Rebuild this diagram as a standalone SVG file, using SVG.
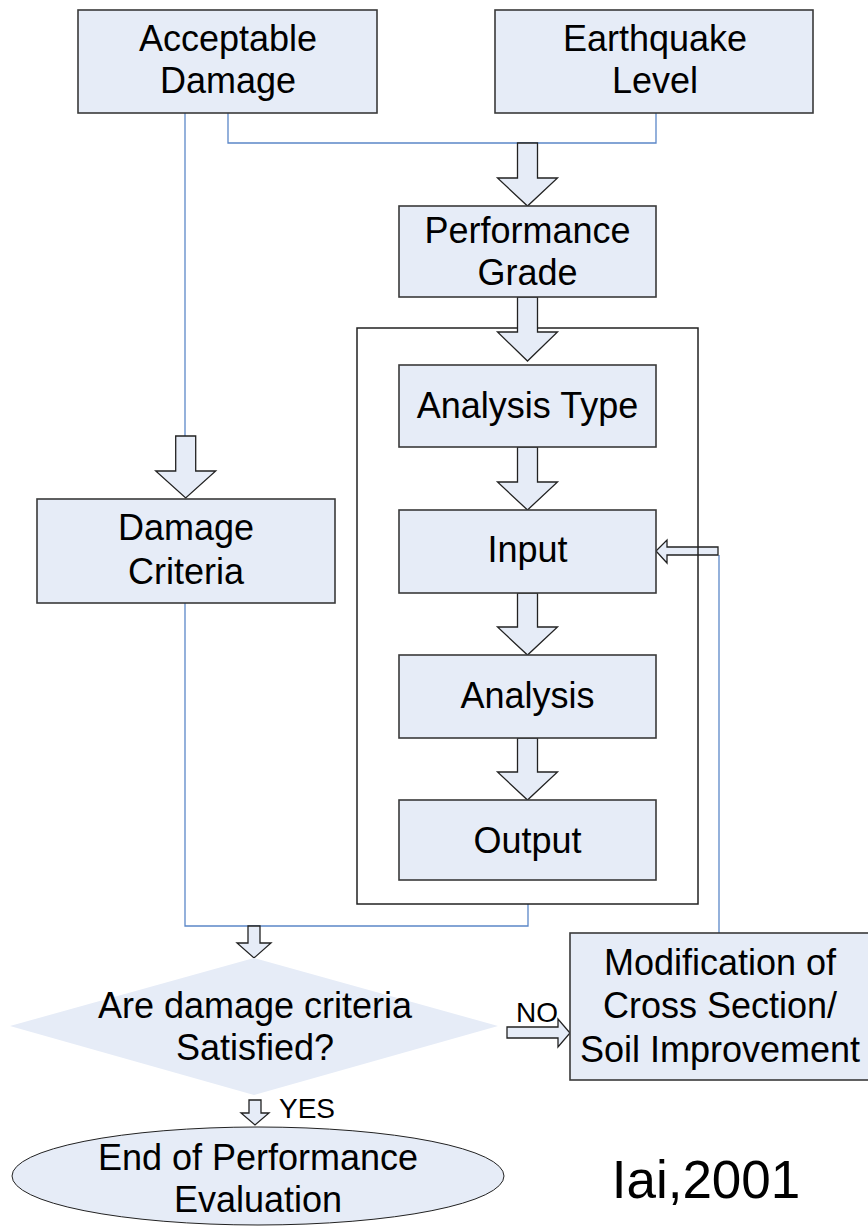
<svg xmlns="http://www.w3.org/2000/svg" width="868" height="1229" viewBox="0 0 868 1229">
<style>
.box{fill:#E6ECF7;stroke:#3a3a3a;stroke-width:1.6}
.arr{fill:#E6ECF7;stroke:#222;stroke-width:1.3;stroke-linejoin:miter}
.con{fill:none;stroke:#5B87C8;stroke-width:1.3}
.t{font-family:"Liberation Sans",Arial,sans-serif;font-size:36px;fill:#000;text-anchor:middle}
.s{font-family:"Liberation Sans",Arial,sans-serif;font-size:28px;fill:#000}
</style>
<rect width="868" height="1229" fill="#fff"/>
<g id="connectors">
<polyline class="con" points="228,113 228,143 656,143 656,113"/>
<line class="con" x1="185" y1="113" x2="185" y2="436"/>
<polyline class="con" points="185,603 185,926 528,926 528,904"/>
<line class="con" x1="719" y1="933" x2="719" y2="555"/>
<polygon class="arr" points="517.5,143 537.5,143 537.5,178 557.5,178 527.5,206 497.5,178 517.5,178"/>
<polygon class="arr" points="517.5,447 537.5,447 537.5,482 557.5,482 527.5,510 497.5,482 517.5,482"/>
<polygon class="arr" points="517.5,593 537.5,593 537.5,627 557.5,627 527.5,655 497.5,627 517.5,627"/>
<polygon class="arr" points="517.5,738 537.5,738 537.5,772 557.5,772 527.5,800 497.5,772 517.5,772"/>
<polygon class="arr" points="175.7,436 195.7,436 195.7,471 215.7,471 185.7,498 155.7,471 175.7,471"/>
<polygon class="arr" points="248,926 260,926 260,943 271,943 254,958 237,943 248,943"/>
<polygon class="arr" points="249,1100 261,1100 261,1113 269,1113 255,1125 241,1113 249,1113"/>
<polygon class="arr" points="507,1027 558,1027 558,1019 570,1033 558,1047 558,1038 507,1038"/>
<polygon class="arr" points="718,547 667,547 667,540 656,551 667,563 667,555 718,555"/>
</g>
<g id="container"><rect x="357" y="328" width="341" height="576" fill="none" stroke="#222" stroke-width="1.5"/></g>
<polygon class="arr" points="517.5,297 537.5,297 537.5,332 557.5,332 527.5,361 497.5,332 517.5,332"/>
<g id="acceptable-damage"><rect class="box" x="78" y="10" width="299" height="103"/>
<text class="t" x="228" y="51">Acceptable</text><text class="t" x="228" y="93">Damage</text></g>
<g id="earthquake-level"><rect class="box" x="495" y="10" width="318" height="103"/>
<text class="t" x="655" y="51">Earthquake</text><text class="t" x="655" y="93">Level</text></g>
<g id="performance-grade"><rect class="box" x="399" y="206" width="257" height="91"/>
<text class="t" x="527.5" y="243">Performance</text><text class="t" x="527.5" y="285">Grade</text></g>
<g id="analysis-type"><rect class="box" x="399" y="365" width="257" height="82"/>
<text class="t" x="527.5" y="418">Analysis Type</text></g>
<g id="input"><rect class="box" x="399" y="510" width="257" height="83"/>
<text class="t" x="527.5" y="562">Input</text></g>
<g id="analysis"><rect class="box" x="399" y="655" width="257" height="83"/>
<text class="t" x="527.5" y="708">Analysis</text></g>
<g id="output"><rect class="box" x="399" y="800" width="257" height="80"/>
<text class="t" x="527.5" y="853">Output</text></g>
<g id="damage-criteria"><rect class="box" x="37" y="499" width="298" height="104"/>
<text class="t" x="186" y="540">Damage</text><text class="t" x="186" y="584">Criteria</text></g>
<g id="decision"><polygon points="254,958 498,1026 254,1095 10,1026" fill="#E6ECF7"/>
<text class="t" x="255" y="1018">Are damage criteria</text><text class="t" x="255" y="1060">Satisfied?</text></g>
<g id="modification"><rect class="box" x="570" y="933" width="310" height="147"/>
<text class="t" x="720" y="975">Modification of</text><text class="t" x="720" y="1018">Cross Section/</text><text class="t" x="720" y="1062">Soil Improvement</text></g>
<g id="end"><ellipse cx="258" cy="1176" rx="246" ry="49" fill="#E6ECF7" stroke="#222" stroke-width="1"/>
<text class="t" x="258" y="1170">End of Performance</text><text class="t" x="258" y="1212">Evaluation</text></g>
<text class="s" x="516" y="1022">NO</text>
<text class="s" x="279" y="1118">YES</text>
<text x="706" y="1198" font-family="'Liberation Sans',Arial,sans-serif" font-size="53" text-anchor="middle">Iai,2001</text>
</svg>
